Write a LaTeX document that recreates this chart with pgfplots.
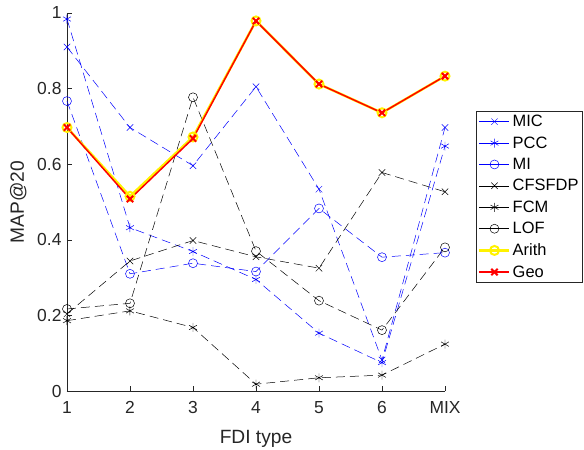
\documentclass[border=0pt]{standalone}
\usepackage{fontspec}
\setmainfont{Liberation Sans}
\usepackage{pgfplots}
\pgfplotsset{compat=1.18}
\definecolor{axgray}{gray}{0.15}
\begin{document}
\begin{tikzpicture}
\begin{axis}[
  at={(0,0)}, anchor=origin,
  scale only axis, width=378bp, height=378bp,
  xmin=1, xmax=7, ymin=0, ymax=1,
  axis x line*=bottom, axis y line*=left,
  axis line style={axgray, line width=0.6pt},
  tick align=inside, major tick length=5bp,
  tick style={axgray, line width=0.5pt},
  xtick={1,2,3,4,5,6,7}, xticklabels={1,2,3,4,5,6,MIX},
  ytick={0,0.2,0.4,0.6,0.8,1},
  yticklabels={0,0.2,0.4,0.6,0.8,1},
  ticklabel style={font=\fontsize{17.5}{21}\selectfont, text=axgray},
  xticklabel style={yshift=-7bp},
  yticklabel style={xshift=-2bp},
  /pgf/number format/assume math mode=true,
  xlabel={FDI type}, ylabel={MAP@20},
  label style={font=\fontsize{19.25}{23}\selectfont, text=axgray},
  xlabel style={yshift=-10bp},
  ylabel style={yshift=4bp},
  clip=false,
  legend style={at={(1.082,0.741)}, anchor=north west, draw=axgray, line width=0.5pt,
    font=\fontsize{16.5}{19}\selectfont, text=black, inner sep=2bp, row sep=4.5bp,
    legend cell align=left},
  legend image code/.code={\draw[mark repeat=2,mark phase=2,#1,solid] plot coordinates {(0bp,0bp)(15bp,0bp)(30bp,0bp)};},
  every axis plot/.append style={dash pattern=on 9bp off 5bp, line width=0.5pt},
]
\addplot[blue, mark=x, mark size=4.5bp, mark options={solid}] coordinates {(1,0.910)(2,0.697)(3,0.596)(4,0.805)(5,0.534)(6,0.082)(7,0.697)};
\addlegendentry{MIC}
\addplot[blue, mark=asterisk, mark size=4.5bp, mark options={solid}] coordinates {(1,0.984)(2,0.432)(3,0.369)(4,0.295)(5,0.153)(6,0.075)(7,0.648)};
\addlegendentry{PCC}
\addplot[blue, mark=o, mark size=4.5bp, mark options={solid}] coordinates {(1,0.767)(2,0.310)(3,0.338)(4,0.316)(5,0.483)(6,0.354)(7,0.366)};
\addlegendentry{MI}
\addplot[black, mark=x, mark size=4.5bp, mark options={solid}] coordinates {(1,0.204)(2,0.344)(3,0.398)(4,0.355)(5,0.325)(6,0.578)(7,0.527)};
\addlegendentry{CFSFDP}
\addplot[black, mark=asterisk, mark size=4.5bp, mark options={solid}] coordinates {(1,0.186)(2,0.212)(3,0.168)(4,0.018)(5,0.035)(6,0.042)(7,0.124)};
\addlegendentry{FCM}
\addplot[black, mark=o, mark size=4.5bp, mark options={solid}] coordinates {(1,0.217)(2,0.232)(3,0.777)(4,0.370)(5,0.239)(6,0.161)(7,0.380)};
\addlegendentry{LOF}
\addplot[yellow, solid, line width=2.5pt, mark=o, mark size=4.5bp, mark options={solid, line width=2pt}] coordinates {(1,0.697)(2,0.515)(3,0.672)(4,0.979)(5,0.812)(6,0.736)(7,0.833)};
\addlegendentry{Arith}
\addplot[red, solid, line width=1.5pt, mark=x, mark size=4.5bp, mark options={solid, line width=2pt}] coordinates {(1,0.697)(2,0.508)(3,0.668)(4,0.979)(5,0.812)(6,0.736)(7,0.833)};
\addlegendentry{Geo}
\end{axis}
\pgfresetboundingbox
\path (-67bp,-59bp) rectangle (517bp,391bp);
\end{tikzpicture}
\end{document}
